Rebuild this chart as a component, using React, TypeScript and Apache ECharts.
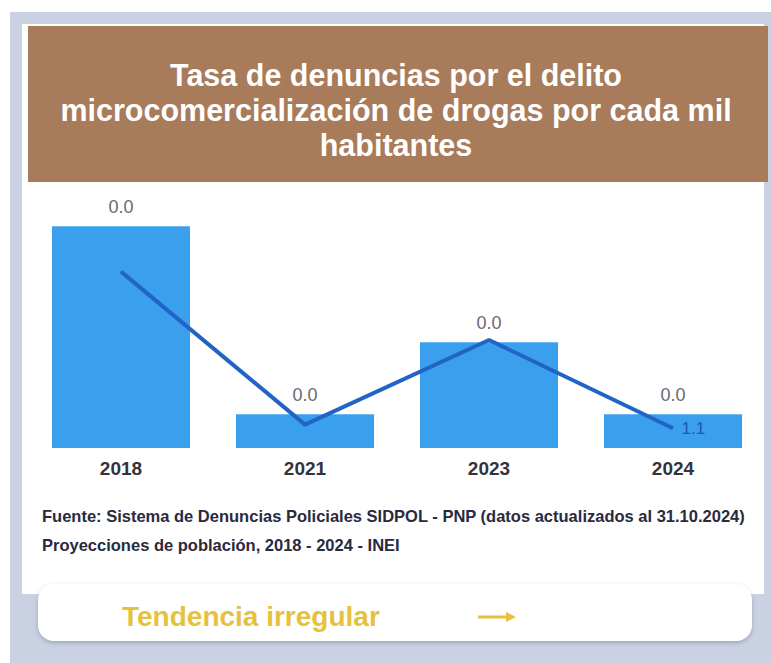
import React, { useEffect, useRef } from "react";
import * as echarts from "echarts";

const years = ["2018", "2021", "2023", "2024"];
const barValues = [0.044, 0.0067, 0.021, 0.0067];
const lineValues = [9.8, 1.3, 6.0, 1.1];
const titleLines = [
  "Tasa de denuncias por el delito",
  "microcomercialización de drogas por cada mil",
  "habitantes",
];
const sourceLines = [
  "Fuente: Sistema de Denuncias Policiales SIDPOL - PNP (datos actualizados al 31.10.2024)",
  "Proyecciones de población, 2018 - 2024 - INEI",
];
const trendText = "Tendencia irregular";

export default function App() {
  const ref = useRef<HTMLDivElement>(null);
  useEffect(() => {
    if (!ref.current) return;
    const chart = echarts.init(ref.current, null, { renderer: "svg" });
    const font = "'Liberation Sans', Arial, sans-serif";
    chart.setOption({
      animation: false,
      backgroundColor: "#ffffff",
      textStyle: { fontFamily: font },
      graphic: [
        { type: "rect", z: -10, shape: { x: 10, y: 12, width: 761, height: 651 }, style: { fill: "#c9d1e3" } },
        { type: "rect", z: -9, shape: { x: 22, y: 24, width: 742, height: 570 }, style: { fill: "#ffffff" } },
        { type: "rect", z: -8, shape: { x: 28, y: 26, width: 740, height: 156 }, style: { fill: "#a87b5b" } },
        ...titleLines.map((t, i) => ({
          type: "text",
          z: 10,
          x: 396,
          y: 75 + i * 35,
          style: {
            text: t,
            fill: "#ffffff",
            font: `bold 30.5px ${font}`,
            align: "center",
            verticalAlign: "middle",
          },
        })),
        ...sourceLines.map((t, i) => ({
          type: "text",
          z: 10,
          x: 42,
          y: 516 + i * 29,
          style: {
            text: t,
            fill: "#2a2a3e",
            font: `bold 16.5px ${font}`,
            align: "left",
            verticalAlign: "middle",
          },
        })),
        {
          type: "rect",
          z: 5,
          shape: { x: 38, y: 584, width: 714, height: 57, r: 16 },
          style: { fill: "#ffffff", shadowBlur: 4, shadowColor: "rgba(80,90,110,0.35)", shadowOffsetY: 2 },
        },
        {
          type: "text",
          z: 10,
          x: 122,
          y: 616,
          style: {
            text: trendText,
            fill: "#e6c13c",
            font: `bold 28px ${font}`,
            align: "left",
            verticalAlign: "middle",
          },
        },
        {
          type: "line",
          z: 10,
          shape: { x1: 478, y1: 617, x2: 508, y2: 617 },
          style: { stroke: "#e6c13c", lineWidth: 3 },
        },
        {
          type: "polygon",
          z: 10,
          shape: { points: [[506, 612], [516, 617], [506, 622]] },
          style: { fill: "#e6c13c" },
        },
      ],
      grid: { left: 29, right: 6, top: 196, bottom: 215 },
      xAxis: {
        type: "category",
        data: years,
        axisLine: { show: false },
        axisTick: { show: false },
        axisLabel: { fontSize: 19, fontWeight: "bold", color: "#333340", margin: 11, fontFamily: font },
      },
      yAxis: [
        { type: "value", min: 0, max: 0.05, show: false },
        { type: "value", min: 0, max: 14, show: false },
      ],
      series: [
        {
          type: "bar",
          data: barValues,
          yAxisIndex: 0,
          barCategoryGap: "25%",
          itemStyle: { color: "#3aa0ee" },
          label: {
            show: true,
            position: "top",
            distance: 10,
            fontSize: 18,
            color: "#6a6a72",
            fontFamily: font,
            formatter: (p: any) => Number(p.value).toFixed(1),
          },
        },
        {
          type: "line",
          data: lineValues.map((v, i) => ({
            value: v,
            label: { show: i === lineValues.length - 1 },
          })),
          yAxisIndex: 1,
          symbol: "circle",
          symbolSize: 1,
          lineStyle: { color: "#2263c6", width: 4 },
          itemStyle: { color: "#2263c6" },
          label: {
            position: "right",
            distance: 8,
            fontSize: 17,
            color: "#2456b0",
            fontFamily: font,
            formatter: (p: any) => Number(p.value).toFixed(1),
          },
          z: 5,
        },
      ],
    });
    return () => chart.dispose();
  }, []);
  return (
    <div
      ref={ref}
      style={{ position: "fixed", left: 0, top: 0, width: 771, height: 663 }}
    />
  );
}
